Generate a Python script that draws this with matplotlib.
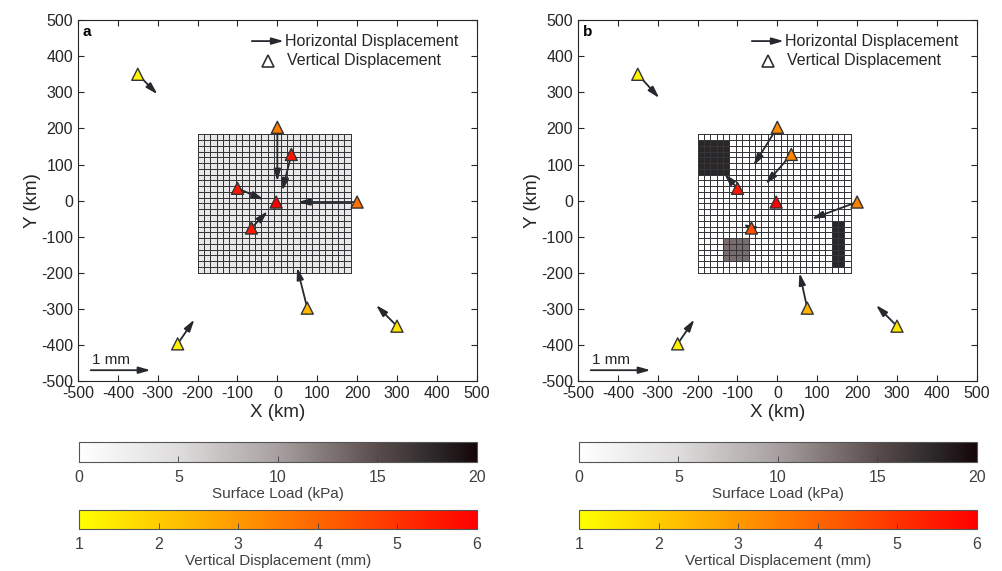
import numpy as np
import matplotlib
matplotlib.use("Agg")
import matplotlib.pyplot as plt
from matplotlib.colors import LinearSegmentedColormap, Normalize
from matplotlib.cm import ScalarMappable

plt.rcParams['font.family'] = ['Liberation Sans', 'DejaVu Sans']
plt.rcParams['axes.unicode_minus'] = False

# stations (km)
sta_x = [-350, 0, 35, -100, -3, 200, -65, 75, 300, -250]
sta_y = [350, 203, 128, 34, -4, -4, -76, -298, -348, -397]

# vertical displacement (mm)
vert_a = [1.2, 3.6, 5.6, 5.6, 6.0, 3.8, 5.6, 2.4, 1.5, 1.3]
vert_b = [1.2, 3.3, 3.4, 5.6, 6.0, 3.5, 4.5, 2.5, 1.5, 1.3]

# horizontal displacement (mm)
dx_a = [0.33, 0.0, -0.15, 0.44, 0.0, -0.99, 0.27, -0.17, -0.35, 0.28]
dy_a = [-0.37, -1.00, -0.67, -0.21, 0.0, 0.0, 0.31, 0.75, 0.39, 0.45]
dx_b = [0.36, -0.40, -0.43, -0.22, 0.0, -0.76, -0.14, -0.13, -0.35, 0.28]
dy_b = [-0.44, -0.71, -0.55, 0.27, 0.0, -0.31, 0.07, 0.65, 0.39, 0.45]

# load grid: 24 x 24 cells of 16 km, starting at -200 km
cell_km = 16
n_cells = 24
grid_x0 = -200
load_a_uniform = 3.4  # kPa
# panel b blocks: (col0, col1, row0, row1, value kPa), rows from bottom
load_b_blocks = [
    (9, 15, 11, 18, 0.6),
    (20, 23, 20, 23, 0.6),
    (0, 5, 17, 23, 18.0),
    (4, 8, 2, 6, 13.0),
    (21, 23, 1, 9, 18.0),
]

load_cmap = LinearSegmentedColormap.from_list(
    'load', [(0, '#ffffff'), (0.25, '#dedcdc'), (0.5, '#a8a0a0'),
             (0.75, '#5a4c4c'), (0.9, '#2a2729'), (1.0, '#160608')])
vert_cmap = plt.get_cmap('autumn_r')
load_norm = Normalize(0, 20)
vert_norm = Normalize(1, 6)

km_per_mm = 150
txt = '#262626'
arrow_col = '#25282d'

fig = plt.figure(figsize=(10.02, 5.71), dpi=100)

edges = grid_x0 + cell_km * np.arange(n_cells + 1)


def panel(ax, load, vert, dx, dy, tag):
    ax.pcolormesh(edges, edges, load, cmap=load_cmap, norm=load_norm,
                  edgecolors='#34363a', linewidth=0.7, zorder=1)
    for x, y, u, v in zip(sta_x, sta_y, dx, dy):
        if u == 0 and v == 0:
            continue
        ax.annotate('', xy=(x + u * km_per_mm, y + v * km_per_mm), xytext=(x, y),
                    arrowprops=dict(arrowstyle='-|>,head_length=0.7,head_width=0.2',
                                    color=arrow_col, lw=1.3, shrinkA=0, shrinkB=0),
                    zorder=3)
    ax.scatter(sta_x, sta_y, c=vert, cmap=vert_cmap, norm=vert_norm, marker='^',
               s=75, edgecolors='#333333', linewidths=1.0, zorder=4)
    # scale arrow
    ax.annotate('', xy=(-468 + km_per_mm, -470), xytext=(-468, -470),
                arrowprops=dict(arrowstyle='-|>,head_length=0.7,head_width=0.2',
                                color=arrow_col, lw=1.3, shrinkA=0, shrinkB=0))
    ax.text(-465, -443, '1 mm', fontsize=11, color=txt, ha='left', va='center')
    # legend
    ax.annotate('', xy=(0.516, 0.942), xytext=(0.436, 0.942), xycoords='axes fraction',
                arrowprops=dict(arrowstyle='-|>,head_length=0.7,head_width=0.2',
                                color=arrow_col, lw=1.3, shrinkA=0, shrinkB=0))
    ax.text(0.518, 0.942, 'Horizontal Displacement', transform=ax.transAxes,
            fontsize=11.5, color=txt, ha='left', va='center')
    ax.plot([0.476], [0.887], marker='^', ms=8, mfc='none', mec='#333333', mew=1.2,
            transform=ax.transAxes, clip_on=False)
    ax.text(0.524, 0.887, 'Vertical Displacement', transform=ax.transAxes,
            fontsize=11.5, color=txt, ha='left', va='center')
    ax.text(-488, 468, tag, fontsize=11, fontweight='bold', color='black',
            ha='left', va='center')

    ax.set_xlim(-500, 500)
    ax.set_ylim(-500, 500)
    ax.set_xticks(np.arange(-500, 501, 100))
    ax.set_yticks(np.arange(-500, 501, 100))
    ax.tick_params(direction='in', length=4, top=True, right=True, labelsize=11.5,
                   colors=txt, width=0.8)
    for s in ax.spines.values():
        s.set_color(txt)
        s.set_linewidth(0.8)
    ax.set_xlabel('X (km)', fontsize=13.5, color=txt, labelpad=2)
    ax.set_ylabel('Y (km)', fontsize=13.5, color=txt, labelpad=0)


load_a = np.full((n_cells, n_cells), load_a_uniform)
load_b = np.zeros((n_cells, n_cells))
for c0, c1, r0, r1, val in load_b_blocks:
    load_b[r0:r1, c0:c1] = val

for left, load, vert, dx, dy, tag in [(0.0778, load_a, vert_a, dx_a, dy_a, 'a'),
                                      (0.5768, load_b, vert_b, dx_b, dy_b, 'b')]:
    ax = fig.add_axes([left, 0.3327, 0.398, 0.632])
    panel(ax, load, vert, dx, dy, tag)

    cax1 = fig.add_axes([left + 0.001, 0.191, 0.397, 0.035])
    cb1 = fig.colorbar(ScalarMappable(norm=load_norm, cmap=load_cmap), cax=cax1,
                       orientation='horizontal', ticks=[0, 5, 10, 15, 20])
    cb1.set_label('Surface Load (kPa)', fontsize=11, color='#404040', labelpad=1)

    cax2 = fig.add_axes([left + 0.001, 0.0736, 0.397, 0.0335])
    cb2 = fig.colorbar(ScalarMappable(norm=vert_norm, cmap=vert_cmap), cax=cax2,
                       orientation='horizontal', ticks=[1, 2, 3, 4, 5, 6])
    cb2.set_label('Vertical Displacement (mm)', fontsize=11, color='#404040', labelpad=1)

    for cb in (cb1, cb2):
        cb.outline.set_edgecolor('#555555')
        cb.outline.set_linewidth(0.8)
        cb.ax.tick_params(direction='in', length=4, labelsize=11.5, colors='#404040',
                          width=0.6, pad=6)

fig.savefig('out.png', dpi=100)
